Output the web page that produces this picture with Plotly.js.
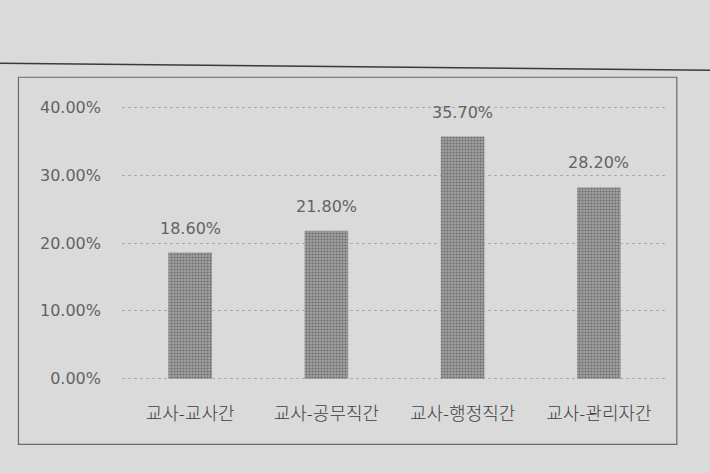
<!DOCTYPE html>
<html>
<head>
<meta charset="utf-8">
<script src="https://cdn.plot.ly/plotly-3.0.1.min.js"></script>
<style>
  html, body { margin: 0; padding: 0; background: #dadada; }
  #myPlot { width: 710px; height: 473px; }
</style>
</head>
<body>
<div id="myPlot"></div>
<script>
// categories and values
const categories = ['교사-교사간', '교사-공무직간', '교사-행정직간', '교사-관리자간'];
const shares = [0.186, 0.218, 0.357, 0.282];
const valueLabels = ['18.60%', '21.80%', '35.70%', '28.20%'];
const yTicks = [0, 0.1, 0.2, 0.3, 0.4];

const numGray = '#636363';
const korFont = '"Noto Sans CJK KR", "Noto Sans", sans-serif';
const numFont = '"DejaVu Sans", "Noto Sans", sans-serif';

const data = [{
  x: categories,
  y: shares,
  type: 'bar',
  marker: {
    color: '#8e8e8e',
    pattern: { shape: '.', size: 3, solidity: 0.4, fgcolor: '#6e6e6e', bgcolor: '#a0a0a0' }
  },
  hoverinfo: 'none'
}];

// value labels above bars
const annotations = categories.map((c, i) => ({
  x: c, y: shares[i], text: valueLabels[i],
  showarrow: false, yanchor: 'bottom', yshift: 13,
  font: { family: numFont, size: 16, color: numGray }
}));

const layout = {
  width: 710, height: 473,
  margin: { l: 122, r: 43, t: 106, b: 93 },
  paper_bgcolor: '#dadada',
  plot_bgcolor: '#dadada',
  showlegend: false,
  bargap: 0.68,
  xaxis: {
    showgrid: false, showline: false, zeroline: false, ticks: '',
    ticklabelstandoff: 21,
    tickfont: { family: korFont, size: 18, color: '#404040', weight: 300 },
    fixedrange: true
  },
  yaxis: {
    range: [-0.002, 0.402],
    tickvals: yTicks,
    tickformat: '.2%',
    showgrid: true, gridcolor: '#ababab', griddash: 'dot', gridwidth: 1,
    zeroline: false, showline: false, ticks: '',
    ticklabelstandoff: 20,
    tickfont: { family: numFont, size: 16, color: numGray },
    fixedrange: true
  },
  annotations: annotations,
  shapes: [
    // chart frame
    { type: 'rect', xref: 'paper', yref: 'paper',
      x0: -0.19, x1: 1.018, y0: -0.235, y1: 1.105,
      line: { color: '#6a6a6a', width: 1.2 } },
    // line across the top of the page
    { type: 'line', xref: 'paper', yref: 'paper',
      x0: -0.24, x1: 1.09, y0: 1.156, y1: 1.13,
      line: { color: '#3a3a3a', width: 1.5 } }
  ]
};

Plotly.newPlot('myPlot', data, layout, { displayModeBar: false, staticPlot: true });
</script>
</body>
</html>
